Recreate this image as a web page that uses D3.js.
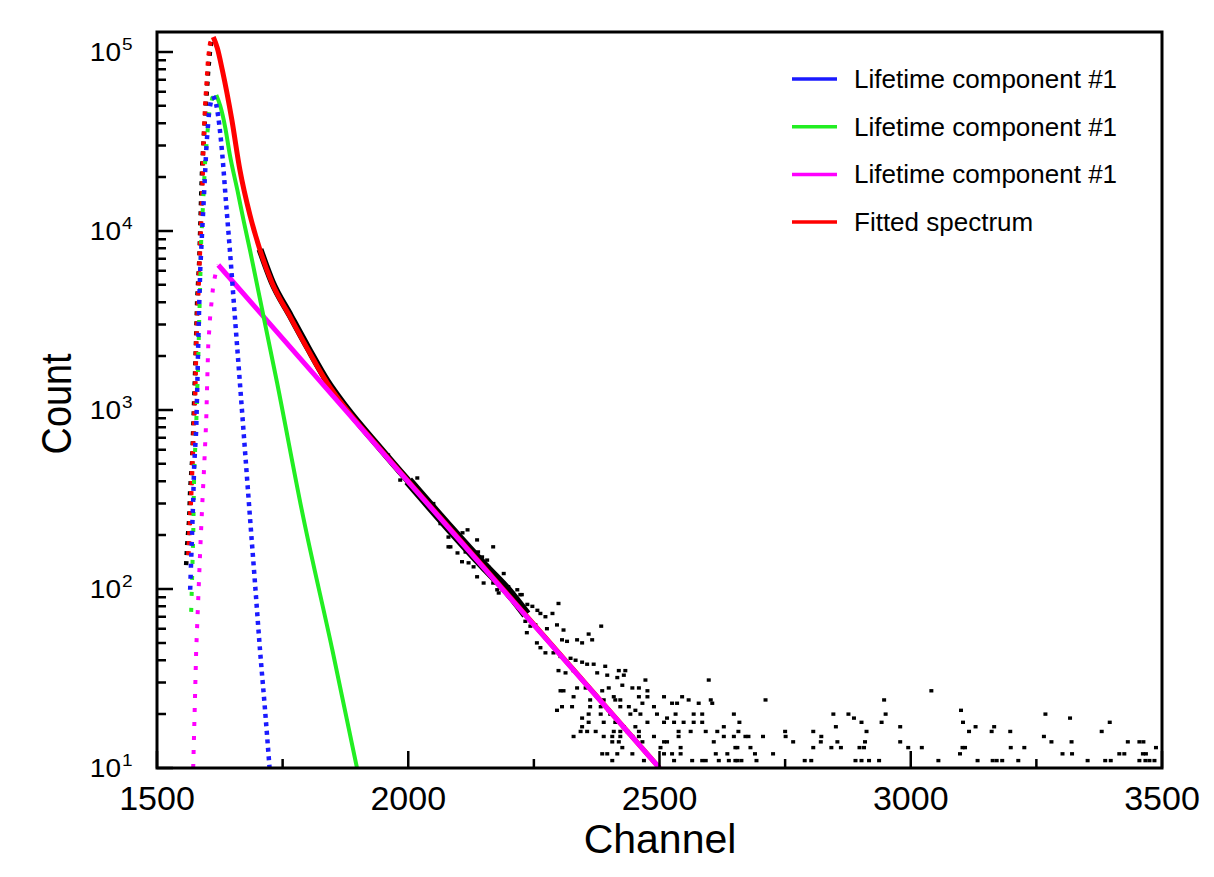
<!DOCTYPE html>
<html>
<head>
<meta charset="utf-8">
<script src="https://cdnjs.cloudflare.com/ajax/libs/d3/7.8.5/d3.min.js"></script>
<style>
  body { margin: 0; background: #fff; }
  svg { display: block; font-family: "Liberation Sans", Arial, sans-serif; }
</style>
</head>
<body>
<div id="chart"></div>
<script>
// measured spectrum: rising edge, dense decay band, scattered points
var obsRise = [[1558,136],[1560,176],[1564,243],[1566,357],[1570,526],[1572,773],[1574,1138],[1576,1673],[1578,2625],[1580,4120],[1584,6720],[1586,10140],[1588,15890],[1590,23390],[1594,36640],[1598,53950],[1602,79250],[1606,105200],[1610,119700]];
var obsBand = [[1705,7900],[1729,5200],[1765,3380],[1801,2210],[1839,1445],[1875,1045],[1944,612],[2000,402]];
var obsBandWide = [[2000,402],[2084,216],[2150,135],[2200,96],[2235,72]];
var obsScatter = [
  [1960,560],[1984,406],[2018,417],[2030,330],[2050,300],[2064,232],[2080,195],[2080,172],[2084,172],[2098,159],[2107,142],[2108,206],[2114,161],[2118,214],[2120,140],[2130,133],[2137,188],[2137,117],[2139,161],[2147,151],[2150,108],[2157,145],[2159,133],[2169,172],[2169,108],[2177,99],[2180,95],[2189,108],[2190,122],[2199,103],[2207,95],[2217,99],[2223,93],
  [2226,93],[2299,83],[2237,82],[2247,80],[2257,76],[2263,73],[2273,70],[2287,73],[2384,62],[2233,66],[2243,62],[2253,63],[2276,60],[2296,63],[2309,59],[2236,57],[2359,56],[2366,52],[2336,52],[2346,50],[2306,52],[2316,51],[2256,50],[2263,47],[2273,44],[2289,44],[2303,42],[2323,41],[2333,40],[2346,39],[2356,38],[2369,38],[2392,37],[2299,35],[2313,34],[2329,35],[2376,34],[2396,33],[2419,35],[2432,35],[2416,32],[2429,33],[2472,31],
  [2303,27],[2309,27],[2336,28],[2353,28],[2386,27],[2399,28],[2426,29],[2446,28],[2459,28],[2476,27],[2598,31],[2329,25],[2362,24],[2389,24],[2409,25],[2412,24],[2422,24],[2459,25],[2476,25],[2509,25],[2545,25],[2558,24],[2602,24],
  [2296,21],[2306,22],[2326,22],[2362,22],[2383,22],[2399,21],[2422,22],[2439,22],[2452,21],[2466,23],[2489,22],[2525,23],[2535,23],[2578,23],[2605,23],[2346,19],[2359,20],[2383,20],[2402,20],[2442,20],[2462,20],[2495,20],[2515,19],[2532,20],[2568,20],[2585,20],[2648,20],
  [2346,17],[2359,18],[2389,18],[2412,18],[2429,17],[2452,17],[2476,18],[2509,18],[2529,18],[2548,18],[2568,18],[2585,18],[2628,17],[2343,16],[2356,16],[2373,16],[2409,16],[2422,16],[2436,16],[2459,16],[2538,16],[2562,16],[2592,16],[2615,16],[2628,15],[2329,15],[2389,15],[2406,15],[2422,15],[2446,15],[2459,15],[2489,15],[2538,15],[2648,15],
  [2406,14],[2419,14],[2466,14],[2509,14],[2515,14],[2608,14],[2426,13],[2502,13],[2542,13],[2651,13],[2386,12],[2396,12],[2416,12],[2446,12],[2509,12],[2525,12],[2542,12],[2612,12],[2635,12],[2406,11],[2469,11],[2529,11],[2565,11],[2585,11],[2592,11],[2618,11],[2638,11],[2651,11],
  [2711,24],[2947,24],[3041,27],[2846,20],[2876,20],[2887,19],[2950,20],[2942,18],[2902,18],[2659,18],[2851,17],[2979,17],[2657,16],[2750,16],[2806,16],[2912,16],[2671,15],[2677,15],[2706,15],[2751,15],[2822,15],[2766,14],[2821,14],[2854,14],[2909,14],[2979,14],[2655,13],[2681,13],[2806,13],[2842,13],[2861,13],[2898,13],[2907,13],[2995,13],[3022,13],[2690,12],[2726,12],[2655,11],[2663,11],[2693,11],[2789,11],[2802,11],[2890,11],[2902,11],[2917,11],[2937,11],[3055,11],
  [3100,21],[3268,20],[3317,19],[3104,18],[3396,18],[3129,17],[3166,17],[3116,16],[3161,16],[3198,16],[3380,16],[3265,15],[3280,14],[3320,14],[3432,14],[3455,14],[3463,14],[3103,13],[3108,13],[3199,13],[3226,13],[3488,13],[3098,12],[3302,12],[3321,12],[3415,12],[3425,12],[3462,12],[3468,12],[3133,11],[3163,11],[3171,11],[3182,11],[3214,11],[3352,11],[3387,11],[3398,11],[3455,11],[3467,11],[3475,11],[3485,11]
];

// fitted spectrum and lifetime components
var fitRise = [[1562,145],[1568,335],[1572,637],[1576,1213],[1578,2307],[1582,4385],[1586,8356],[1590,15890],[1592,28380],[1596,50580],[1602,92470],[1606,112200],[1612,121300]];
var fitDecay = [[1612,121300],[1620,105200],[1630,79250],[1649,41690],[1665,21930],[1685,12270],[1705,7830],[1729,5120],[1765,3310],[1801,2160],[1839,1415],[1875,1026],[1944,606],[2084,216],[2500,10]];
var comp1Rise = [[1566,99],[1568,145],[1570,214],[1572,314],[1574,493],[1578,773],[1580,1294],[1582,2307],[1584,3864],[1586,6053],[1590,10140],[1594,16950],[1598,28380],[1600,34390],[1604,47430],[1608,53950],[1612,56760]];
var comp1Decay = [[1612,56760],[1618,50580],[1624,39080],[1630,26610],[1637,14890],[1645,7830],[1655,3310],[1665,1415],[1675,598],[1685,252],[1695,108],[1705,45.6],[1715,21.1],[1724,10]];
var comp2Rise = [[1568,74.5],[1570,120],[1572,193],[1574,451],[1578,824],[1580,1244],[1582,1832],[1584,3184],[1586,5120],[1588,8913],[1592,14890],[1596,24930],[1600,34390],[1604,46190],[1610,55340],[1618,57540]];
var comp2Decay = [[1618,57540],[1626,49900],[1636,37600],[1645,26600],[1660,16900],[1673,11200],[1685,7830],[1739,1420],[1791,252],[1849,45.6],[1898,10]];
var comp3Rise = [[1572,10],[1574,16.3],[1576,27.3],[1578,45.6],[1582,86.9],[1586,165],[1590,294],[1594,493],[1598,880],[1600,1472],[1602,2307],[1606,3394],[1612,4992],[1618,6053],[1622,6457]];
var comp3Decay = [[1622,6457],[2000,397],[2500,10]];

var xMajor = [1500, 2000, 2500, 3000, 3500];
var xMinor = [1750, 2250, 2750, 3250];
var yMajor = [10, 100, 1000, 10000, 100000];
var legendNames = ['Lifetime component #1', 'Lifetime component #1', 'Lifetime component #1', 'Fitted spectrum'];
var legendColors = ['#1a1aff', '#22ee22', '#ff00ff', '#ff0000'];

var width = 1214, height = 877;
var margin = {left: 157, right: 52, top: 32, bottom: 109};
var innerW = width - margin.left - margin.right;
var innerH = height - margin.top - margin.bottom;
var bottomY = margin.top + innerH;

var svg = d3.select('#chart').append('svg')
    .attr('width', width)
    .attr('height', height);

var x = d3.scaleLinear().domain([1500, 3500]).range([margin.left, margin.left + innerW]);
var y = d3.scaleLog().domain([10, 129300]).range([bottomY, margin.top]);

svg.append('defs').append('clipPath').attr('id', 'plotClip')
    .append('rect')
    .attr('x', margin.left).attr('y', margin.top)
    .attr('width', innerW).attr('height', innerH);

var plot = svg.append('g').attr('clip-path', 'url(#plotClip)');

var line = d3.line().x(function(d) { return x(d[0]); }).y(function(d) { return y(d[1]); });
var smooth = d3.line().x(function(d) { return x(d[0]); }).y(function(d) { return y(d[1]); }).curve(d3.curveMonotoneX);

function drawPath(data, color, w, dash, offset, gen) {
    var p = plot.append('path')
        .datum(data)
        .attr('fill', 'none')
        .attr('stroke', color)
        .attr('stroke-width', w)
        .attr('stroke-linecap', 'butt')
        .attr('d', gen || line);
    if (dash) p.attr('stroke-dasharray', dash).attr('stroke-dashoffset', offset || 0);
    return p;
}

// measured data
drawPath(obsBand, '#000', 7, null, 0, smooth);
drawPath(obsBandWide, '#000', 10, null, 0, smooth);
plot.selectAll('rect.obs')
    .data(obsScatter)
    .enter().append('rect')
    .attr('class', 'obs')
    .attr('x', function(d) { return x(d[0]) - 2; })
    .attr('y', function(d) { return y(d[1]) - 1.7; })
    .attr('width', 4)
    .attr('height', 3.4)
    .attr('fill', '#000');
drawPath(obsRise, '#000', 4.5, '4 6', 0);

// fitted spectrum
drawPath(fitRise, '#ff0000', 4.5, '4 6', 5);
drawPath(fitDecay, '#ff0000', 5, null, 0, smooth);

// components
drawPath(comp3Rise, '#ff00ff', 4, '4 10', 0);
drawPath(comp3Decay, '#ff00ff', 5, null, 0);
drawPath(comp2Rise, '#22ee22', 4, '4 12', 0);
drawPath(comp2Decay, '#22ee22', 4, null, 0, smooth);
drawPath(comp1Rise, '#1a1aff', 4.5, '4 7', 0);
drawPath(comp1Decay, '#1a1aff', 4.5, '4 4.5', 0, smooth);

// frame
svg.append('rect')
    .attr('x', margin.left).attr('y', margin.top)
    .attr('width', innerW).attr('height', innerH)
    .attr('fill', 'none').attr('stroke', '#000').attr('stroke-width', 3);

// inward ticks, drawn as one path
var yMinor = [];
yMajor.forEach(function(v) { for (var k = 2; k <= 9; k++) if (v * k < 129300) yMinor.push(v * k); });
var tickPath = d3.path();
yMajor.forEach(function(d) { tickPath.moveTo(margin.left, y(d)); tickPath.lineTo(margin.left + 16, y(d)); });
yMinor.forEach(function(d) { tickPath.moveTo(margin.left, y(d)); tickPath.lineTo(margin.left + 9, y(d)); });
xMajor.forEach(function(d) { tickPath.moveTo(x(d), bottomY); tickPath.lineTo(x(d), bottomY - 17); });
xMinor.forEach(function(d) { tickPath.moveTo(x(d), bottomY); tickPath.lineTo(x(d), bottomY - 9); });
svg.append('path')
    .attr('d', tickPath.toString())
    .attr('fill', 'none')
    .attr('stroke', '#000')
    .attr('stroke-width', 2.5);

// tick labels
svg.selectAll('text.xlab').data(xMajor).enter().append('text')
    .attr('class', 'xlab')
    .attr('x', function(d) { return x(d); })
    .attr('y', 810)
    .attr('text-anchor', 'middle')
    .attr('font-size', 34)
    .text(function(d) { return d; });

yMajor.forEach(function(d) {
    var g = svg.append('g').attr('transform', 'translate(121,' + (y(d) + 9) + ') scale(1.12,1)');
    g.append('text').attr('text-anchor', 'end').attr('font-size', 25).text('10');
    g.append('text').attr('x', 1).attr('y', -11).attr('font-size', 17).text(Math.round(Math.log10(d)));
});

// titles
svg.append('text')
    .attr('x', 660)
    .attr('y', 853)
    .attr('text-anchor', 'middle')
    .attr('font-size', 41)
    .text('Channel');
svg.append('text')
    .attr('transform', 'translate(71,' + (margin.top + innerH / 2 + 4) + ') rotate(-90) scale(0.9,1)')
    .attr('text-anchor', 'middle')
    .attr('font-size', 42)
    .text('Count');

// legend
var legend = svg.append('g').attr('transform', 'translate(792,79)');
legendNames.forEach(function(name, i) {
    var row = legend.append('g').attr('transform', 'translate(0,' + (i * 47.7) + ')');
    row.append('line').attr('x1', 0).attr('x2', 45).attr('y1', 0).attr('y2', 0)
        .attr('stroke', legendColors[i]).attr('stroke-width', 3.5);
    row.append('text').attr('x', 62).attr('y', 9).attr('font-size', 26).text(name);
});
</script>
</body>
</html>
